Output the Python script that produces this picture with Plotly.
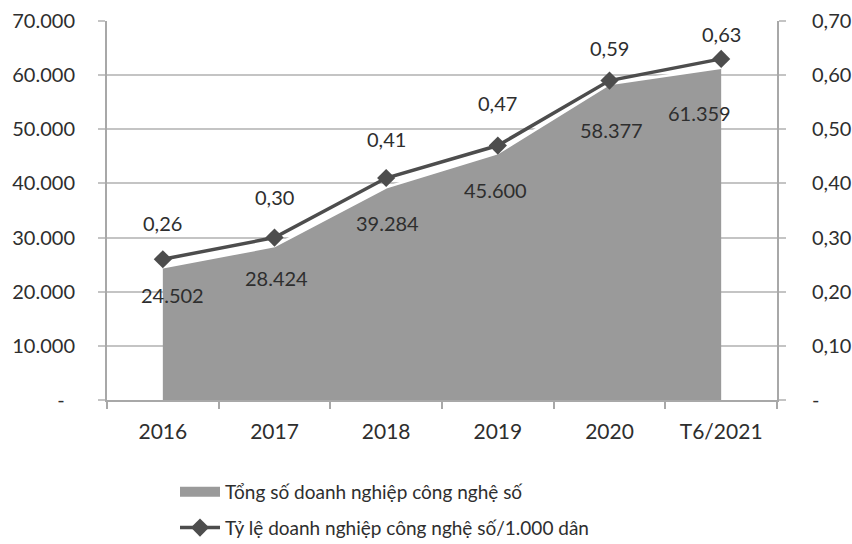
import plotly.graph_objects as go

# Data
categories = ["2016", "2017", "2018", "2019", "2020", "T6/2021"]
total_firms = [24502, 28424, 39284, 45600, 58377, 61359]
rate_per_1000 = [0.26, 0.30, 0.41, 0.47, 0.59, 0.63]

left_ticks = [0, 10000, 20000, 30000, 40000, 50000, 60000, 70000]
right_ticks = [0, 0.1, 0.2, 0.3, 0.4, 0.5, 0.6, 0.7]

name_total = "Tổng số doanh nghiệp công nghệ số"
name_rate = "Tỷ lệ doanh nghiệp công nghệ số/1.000 dân"


def fmt_int(v):
    return f"{v:,}".replace(",", ".")


def fmt_dec(v):
    return f"{v:.2f}".replace(".", ",")


left_text = ["-\u00a0\u00a0"] + [fmt_int(v) for v in left_ticks[1:]]
right_text = ["-"] + [fmt_dec(v) for v in right_ticks[1:]]

FONT = "Lato"
TXT = "#2e2e2e"
GRID = "#c4c4c4"
AXIS = "#a8a8a8"
AREA = "#9a9a9a"
LINE = "#4d4d4d"

# pixel nudges for the data labels
rate_label_dy = [36, 41, 39, 43, 33, 25]
total_label_dy = [-28, -32, -36, -37, -46, -45]
total_label_dx = [10, 2, 1, -2, 2, -22]

fig = go.Figure()

# area series (its legend entry is the block swatch below)
fig.add_trace(go.Scatter(
    x=categories, y=total_firms, name=name_total,
    mode="lines", fill="tozeroy", fillcolor=AREA,
    line=dict(color="white", width=2.5),
    showlegend=False, hoverinfo="skip",
))

# legend swatch for the area series: a wide, thick bar
fig.add_trace(go.Scatter(
    x=[None], y=[None], name=name_total, mode="lines",
    line=dict(color=AREA, width=12),
    legendgroup="a", hoverinfo="skip",
))

fig.add_trace(go.Scatter(
    x=categories, y=rate_per_1000, name=name_rate, yaxis="y2",
    mode="lines+markers",
    line=dict(color=LINE, width=3.5),
    marker=dict(symbol="diamond", size=14, color=LINE),
    legendgroup="b",
))

# value labels; categories are addressed by index so numeric-looking
# names such as "2016" are not read as coordinates
annotations = []
for i, v in enumerate(total_firms):
    annotations.append(dict(
        x=i, y=v, xref="x", yref="y", text=fmt_int(v), showarrow=False,
        xshift=total_label_dx[i], yshift=total_label_dy[i],
        font=dict(family=FONT, size=20, color=TXT),
    ))
for i, v in enumerate(rate_per_1000):
    annotations.append(dict(
        x=i, y=v, xref="x", yref="y2", text=fmt_dec(v), showarrow=False,
        yshift=rate_label_dy[i],
        font=dict(family=FONT, size=20, color=TXT),
    ))

fig.update_layout(
    width=852, height=544,
    margin=dict(l=107, r=75, t=21, b=144, autoexpand=False),
    paper_bgcolor="white", plot_bgcolor="white",
    font=dict(family=FONT, size=20, color=TXT),
    showlegend=True,
    legend=dict(
        xref="container", yref="container",
        x=175 / 852, y=1 - 473 / 544, xanchor="left", yanchor="top",
        orientation="v", itemwidth=40, tracegroupgap=8,
        font=dict(family=FONT, size=19, color=TXT),
        bgcolor="rgba(0,0,0,0)",
    ),
    xaxis=dict(
        type="category", range=[-0.5, 5.5], automargin=False,
        showgrid=False, showline=True, linecolor=AXIS, linewidth=2,
        ticks="outside", tickson="boundaries", ticklen=7, tickcolor=AXIS,
        tickwidth=1.5, tickangle=0, ticklabelstandoff=12,
        tickfont=dict(family=FONT, size=21, color=TXT),
        fixedrange=True,
    ),
    yaxis=dict(
        range=[0, 70000], tickvals=left_ticks, ticktext=left_text,
        automargin=False,
        showgrid=True, gridcolor=GRID, gridwidth=2,
        showline=True, linecolor=AXIS, linewidth=2,
        ticks="outside", ticklen=7, tickcolor=GRID, tickwidth=2,
        zeroline=False, tickfont=dict(family=FONT, size=20, color=TXT),
        ticklabelstandoff=19,
    ),
    yaxis2=dict(
        range=[0, 0.7], tickvals=right_ticks, ticktext=right_text,
        automargin=False,
        overlaying="y", side="right", showgrid=False,
        showline=True, linecolor=AXIS, linewidth=2,
        ticks="outside", ticklen=7, tickcolor=GRID, tickwidth=2,
        zeroline=False, tickfont=dict(family=FONT, size=20, color=TXT),
        ticklabelstandoff=22,
    ),
    annotations=annotations,
)

fig.write_html("out.html")
